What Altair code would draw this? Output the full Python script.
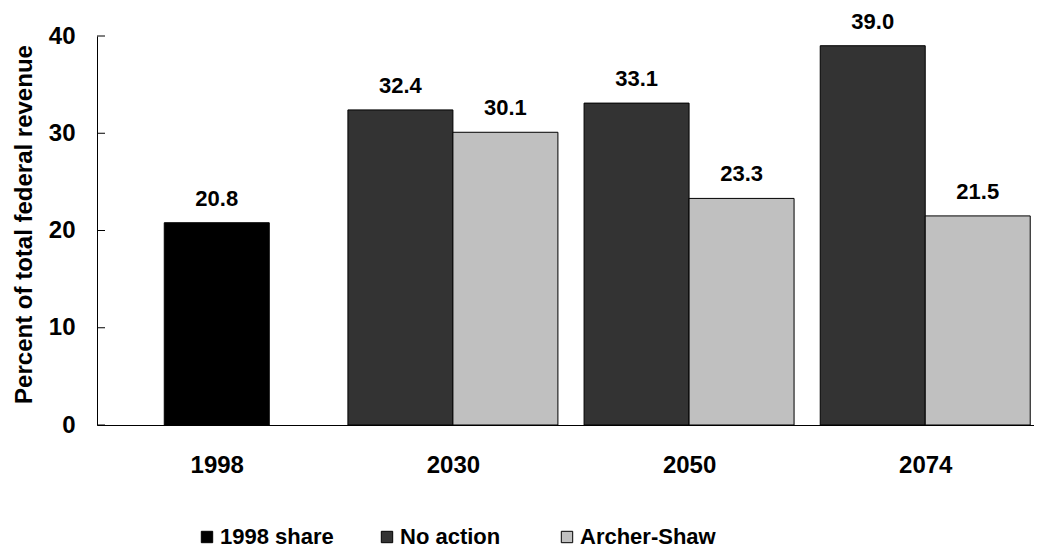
import json
import altair as alt
import pandas as pd

years = ["1998", "2030", "2050", "2074"]
series = ["1998 share", "No action", "Archer-Shaw"]
share_1998 = [20.8, None, None, None]
no_action = [None, 32.4, 33.1, 39.0]
archer_shaw = [None, 30.1, 23.3, 21.5]
colors = ["#000000", "#333333", "#c0c0c0"]
yticks = [0, 10, 20, 30, 40]

rows = []
for s, vals in zip(series, [share_1998, no_action, archer_shaw]):
    for i, (y, v) in enumerate(zip(years, vals)):
        if v is not None:
            rows.append({"year": y, "idx": i, "series": s, "value": v,
                         "label": f"{v:.1f}"})
df = pd.DataFrame(rows)

FONT = "Liberation Sans"
FS = 24
BW = 105
W = 937
offsets = {"1998 share": 0, "No action": -BW / 2, "Archer-Shaw": BW / 2}

step = 238.7
x0 = 116.0
xscale = alt.Scale(domain=[-x0 / step, (W - x0) / step], nice=False, zero=False)
yscale = alt.Scale(domain=[0, 40], nice=False)

xaxis = alt.Axis(values=[0, 1, 2, 3],
                 labelExpr=json.dumps(years) + "[datum.value]",
                 title=None, ticks=False, grid=False, domainColor="black",
                 labelFont=FONT, labelFontSize=FS, labelFontWeight="bold",
                 labelColor="black", labelPadding=28)
yaxis = alt.Axis(values=yticks, title="Percent of total federal revenue",
                 ticks=False, grid=False, domainColor="black",
                 labelFont=FONT, labelFontSize=FS, labelFontWeight="bold",
                 labelColor="black", labelPadding=22,
                 titleFont=FONT, titleFontSize=24, titleFontWeight="bold",
                 titleColor="black", titlePadding=12, titleY=188)

color = alt.Color("series:N",
                  scale=alt.Scale(domain=series, range=colors),
                  legend=alt.Legend(orient="none", legendX=99, legendY=490,
                                    direction="horizontal", title=None,
                                    columns=3, gridAlign="all", columnPadding=20,
                                    symbolType="square", symbolSize=130,
                                    symbolStrokeColor="black", symbolStrokeWidth=1,
                                    labelFont=FONT, labelFontSize=22,
                                    labelFontWeight="bold", labelColor="black",
                                    labelOffset=2, labelLimit=300))

X = alt.X("idx:Q", scale=xscale, axis=xaxis)
Y = alt.Y("value:Q", scale=yscale, axis=yaxis)

layers = []
for s in series:
    sub = df[df["series"] == s]
    bar = alt.Chart(sub).mark_bar(orient="vertical", size=BW, xOffset=offsets[s],
                                  stroke="black", strokeWidth=1).encode(
        x=X, y=Y, color=color,
    )
    text = alt.Chart(sub).mark_text(xOffset=offsets[s], dy=-12, baseline="bottom",
                                    font=FONT, fontSize=22, fontWeight="bold",
                                    color="black").encode(
        x=X, y=Y, text="label:N",
    )
    layers += [bar, text]

tick_df = pd.DataFrame({"value": yticks})
ticks = alt.Chart(tick_df).mark_rule(color="black", strokeWidth=1).encode(
    y=Y, x=alt.value(0), x2=alt.value(8),
)
layers.append(ticks)

chart = alt.layer(*layers).properties(
    width=W, height=389,
    autosize=alt.AutoSizeParams(type="none"),
    padding={"left": 89, "top": 28, "right": 0, "bottom": 124},
).configure(background="white").configure_view(stroke=None)

chart.save("out.html", embed_options={"renderer": "svg", "actions": False})
